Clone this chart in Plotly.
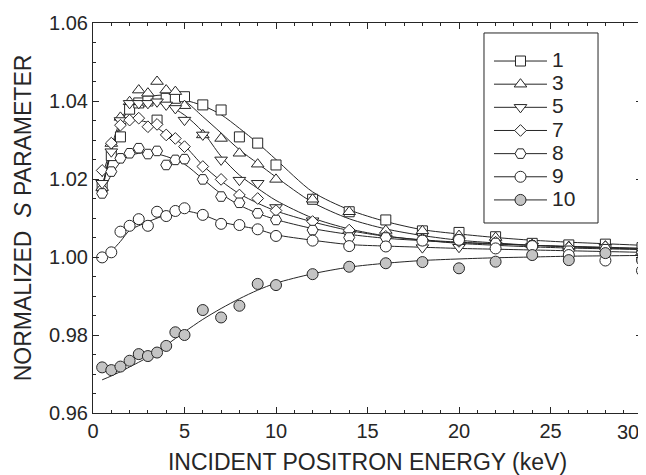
import plotly.graph_objects as go

# ---------------- data ----------------
E_PTS = [0.5, 1, 1.5, 2, 2.5, 3, 3.5, 4, 4.5, 5, 6, 7, 8, 9, 10,
         12, 14, 16, 18, 20, 22, 24, 26, 28, 30]

S1 = [1.0180, 1.0260, 1.0308, 1.0379, 1.0395, 1.0400, 1.0351, 1.0407, 1.0407, 1.0411,
      1.0390, 1.0377, 1.0308, 1.0292, 1.0236, 1.0148, 1.0116, 1.0095, 1.0067, 1.0063,
      1.0052, 1.0035, 1.0031, 1.0033, 1.0024]
S3 = [1.0178, 1.0291, 1.0358, 1.0398, 1.0428, 1.0420, 1.0450, 1.0428, 1.0424, 1.0388,
      1.0313, 1.0304, 1.0266, 1.0238, 1.0199, 1.0148, 1.0116, 1.0068, 1.0067, 1.0055,
      1.0050, 1.0032, 1.0027, 1.0028, 1.0012]
S5 = [1.0189, 1.0270, 1.0350, 1.0394, 1.0394, 1.0394, 1.0398, 1.0390, 1.0381, 1.0351,
      1.0313, 1.0249, 1.0197, 1.0189, 1.0127, 1.0093, 1.0057, 1.0049, 1.0024, 1.0025,
      1.0030, 1.0028, 1.0020, 1.0025, 1.0015]
S7 = [1.0222, 1.0292, 1.0338, 1.0351, 1.0356, 1.0334, 1.0340, 1.0313, 1.0304, 1.0283,
      1.0232, 1.0199, 1.0159, 1.0150, 1.0119, 1.0091, 1.0069, 1.0053, 1.0045, 1.0040,
      1.0038, 1.0030, 1.0024, 1.0026, 1.0014]
S8 = [1.0163, 1.0219, 1.0253, 1.0266, 1.0279, 1.0264, 1.0272, 1.0236, 1.0249, 1.0251,
      1.0199, 1.0155, 1.0139, 1.0112, 1.0095, 1.0069, 1.0050, 1.0050, 1.0044, 1.0044,
      1.0036, 1.0030, 1.0016, 1.0020, 1.0012]
S9 = [0.9999, 1.0012, 1.0065, 1.0080, 1.0097, 1.0080, 1.0116, 1.0105, 1.0118, 1.0125,
      1.0108, 1.0085, 1.0082, 1.0071, 1.0054, 1.0042, 1.0028, 1.0027, 1.0042, 1.0044,
      1.0022, 1.0028, 1.0005, 0.9991, 0.9965]
S10 = [0.9717, 0.9710, 0.9719, 0.9734, 0.9751, 0.9746, 0.9755, 0.9772, 0.9807, 0.9800,
       0.9864, 0.9845, 0.9875, 0.9931, 0.9928, 0.9956, 0.9975, 0.9984, 0.9987, 0.9971,
       0.9988, 1.0005, 0.9992, 1.0010, 0.9992]

# smooth fitted curves drawn through the data
E_FIT = [0.5, 1, 1.5, 2, 3, 4, 5, 6, 7, 8, 9, 10, 12, 14, 16, 18, 20, 22, 24, 26, 28, 30]
F1 = [1.0170, 1.0270, 1.0340, 1.0380, 1.0400, 1.0405, 1.0402, 1.0388, 1.0365, 1.0330,
      1.0292, 1.0250, 1.0167, 1.0121, 1.0091, 1.0070, 1.0059, 1.0050, 1.0043, 1.0038,
      1.0034, 1.0030]
F3 = [1.0175, 1.0280, 1.0350, 1.0385, 1.0410, 1.0415, 1.0400, 1.0360, 1.0318, 1.0275,
      1.0240, 1.0205, 1.0140, 1.0098, 1.0072, 1.0055, 1.0043, 1.0036, 1.0030, 1.0026,
      1.0023, 1.0020]
F5 = [1.0180, 1.0270, 1.0340, 1.0380, 1.0395, 1.0390, 1.0364, 1.0321, 1.0258, 1.0210,
      1.0176, 1.0145, 1.0100, 1.0072, 1.0054, 1.0043, 1.0035, 1.0030, 1.0026, 1.0023,
      1.0021, 1.0019]
F7 = [1.0205, 1.0280, 1.0328, 1.0350, 1.0345, 1.0315, 1.0285, 1.0235, 1.0195, 1.0162,
      1.0138, 1.0118, 1.0090, 1.0068, 1.0053, 1.0044, 1.0038, 1.0034, 1.0030, 1.0027,
      1.0025, 1.0022]
F8 = [1.0165, 1.0210, 1.0243, 1.0260, 1.0268, 1.0258, 1.0238, 1.0200, 1.0162, 1.0133,
      1.0112, 1.0096, 1.0073, 1.0058, 1.0048, 1.0042, 1.0037, 1.0033, 1.0030, 1.0027,
      1.0024, 1.0022]
F9 = [0.9998, 1.0015, 1.0040, 1.0068, 1.0090, 1.0108, 1.0118, 1.0108, 1.0090, 1.0080,
      1.0071, 1.0057, 1.0043, 1.0032, 1.0028, 1.0025, 1.0022, 1.0020, 1.0018, 1.0016,
      1.0014, 1.0012]
F10 = [0.9685, 0.9695, 0.9706, 0.9718, 0.9743, 0.9774, 0.9808, 0.9840, 0.9868, 0.9893,
       0.9915, 0.9933, 0.9957, 0.9974, 0.9984, 0.9991, 0.9995, 0.9998, 1.0000, 1.0002,
       1.0003, 1.0004]

NAMES = ["1", "3", "5", "7", "8", "9", "10"]
SYMBOLS = ["square", "triangle-up", "triangle-down", "diamond", "hexagon2", "circle", "circle"]
SIZES = [10, 11, 11, 9, 11, 11, 11]
FILLS = ["white"] * 6 + ["#c4c4c4"]

X_TICKS = [0, 5, 10, 15, 20, 25, 30]
X_TICKTEXT = ["0", "5", "10", "15", "20", "25", ""]

DATA = [S1, S3, S5, S7, S8, S9, S10]
FITS = [F1, F3, F5, F7, F8, F9, F10]

INK = "#262626"
FONT = "Liberation Sans, Arial, Helvetica, sans-serif"
fig = go.Figure()

for f in FITS:
    fig.add_trace(go.Scatter(x=E_FIT, y=f, mode="lines", line=dict(color=INK, width=1, shape="spline", smoothing=0.8),
                             showlegend=False, hoverinfo="skip"))

for d, sym, sz, fill in zip(DATA, SYMBOLS, SIZES, FILLS):
    fig.add_trace(go.Scatter(x=E_PTS, y=d, mode="markers", cliponaxis=False,
                             marker=dict(symbol=sym, size=sz, color=fill, line=dict(color=INK, width=1)),
                             showlegend=False))

# legend entries (line + marker)
for name, sym, sz, fill in zip(NAMES, SYMBOLS, SIZES, FILLS):
    fig.add_trace(go.Scatter(x=[None], y=[None], mode="lines+markers", name=f'<span style="font-size:21px">{name}</span>',
                             line=dict(color=INK, width=1),
                             marker=dict(symbol=sym, size=sz, color=fill, line=dict(color=INK, width=1))))

# legend frame
fig.add_shape(type="rect", xref="paper", yref="paper", x0=0.7122, x1=0.9199, y0=0.4872, y1=0.9744,
              line=dict(color=INK, width=1), fillcolor="white", layer="above")

# last x tick label kept inside the page
fig.add_annotation(x=30, xref="x", y=0, yref="paper", text="30", showarrow=False,
                   xanchor="right", yanchor="middle", yshift=-19, xshift=-1,
                   font=dict(size=20, family=FONT, color=INK))

fig.update_layout(
    width=638, height=467,
    margin=dict(l=85, r=4, t=15, b=62),
    paper_bgcolor="white", plot_bgcolor="white",
    font=dict(family=FONT, color=INK, size=20),
    legend=dict(x=0.7213, y=0.945, xanchor="left", yanchor="top",
                borderwidth=0, bgcolor="rgba(0,0,0,0)",
                font=dict(size=15.5, family=FONT, color=INK), itemwidth=53,
                tracegroupgap=0),
    xaxis=dict(range=[0, 30], tickvals=X_TICKS, ticktext=X_TICKTEXT,
               ticks="inside", ticklen=6, tickcolor=INK, tickwidth=1,
               minor=dict(dtick=1, ticks="inside", ticklen=3, tickcolor=INK),
               showline=True, linecolor=INK, linewidth=1, mirror="ticks",
               showgrid=False, zeroline=False, automargin=False,
               tickfont=dict(size=20),
               title=dict(text="INCIDENT POSITRON ENERGY (keV)", font=dict(size=23), standoff=12)),
    yaxis=dict(range=[0.96, 1.06], dtick=0.02, tick0=0.96, tickformat=".2f",
               ticks="inside", ticklen=6, tickcolor=INK, tickwidth=1,
               minor=dict(dtick=0.005, ticks="inside", ticklen=3, tickcolor=INK),
               showline=True, linecolor=INK, linewidth=1, mirror="ticks",
               showgrid=False, zeroline=False, automargin=False,
               tickfont=dict(size=20),
               title=dict(text="NORMALIZED\u00a0\u00a0<i>S</i>\u00a0PARAMETER", font=dict(size=23), standoff=11)),
)

fig.write_html("out.html")
